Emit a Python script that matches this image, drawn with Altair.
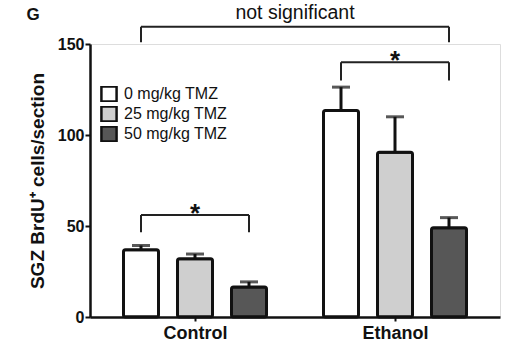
import altair as alt
import pandas as pd

groups = ["Control", "Ethanol"]
doses = ["0 mg/kg TMZ", "25 mg/kg TMZ", "50 mg/kg TMZ"]
means_control = [37.0, 32.0, 16.5]
means_ethanol = [113.5, 90.5, 49.0]
sem_control = [2.3, 2.6, 2.8]
sem_ethanol = [12.8, 19.5, 5.6]
colors = ["#ffffff", "#cfcfcf", "#575757"]

# brackets: (group_from, dose_from, group_to, dose_to, line_y, leg_y, label)
brackets = [
    ("Control", 0, "Ethanol", 2, 159.5, 151.0, "not significant"),
    ("Ethanol", 0, "Ethanol", 2, 140.0, 130.0, "*"),
    ("Control", 0, "Control", 2, 56.0, 46.5, "*"),
]

OFF = 0.27
FONT = "Liberation Sans, Arial, Helvetica, sans-serif"

rows = []
for gi, g in enumerate(groups):
    ms = means_control if g == "Control" else means_ethanol
    ss = sem_control if g == "Control" else sem_ethanol
    for di, d in enumerate(doses):
        rows.append({"group": g, "dose": d, "pos": gi + (di - 1) * OFF,
                     "mean": ms[di], "upper": ms[di] + ss[di]})
df = pd.DataFrame(rows)

def bpos(g, di):
    return groups.index(g) + (di - 1) * OFF

br = pd.DataFrame([
    {"x1": bpos(a, b), "x2": bpos(c, d), "xm": (bpos(a, b) + bpos(c, d)) / 2,
     "y": ly, "yl": lg, "label": lab, "star": lab == "*"}
    for a, b, c, d, ly, lg, lab in brackets
])

xscale = alt.Scale(domain=[-0.5, 1.5], nice=False, zero=False)
yscale = alt.Scale(domain=[0, 150], nice=False)

label_expr = " : ".join(
    [f"datum.value == {i} ? '{g}'" for i, g in enumerate(groups[:-1])] + [f"'{groups[-1]}'"]
)

xenc = alt.X("pos:Q", scale=xscale, title=None,
             axis=alt.Axis(values=list(range(len(groups))), labelExpr=label_expr,
                           labelFontSize=18, labelFontWeight="bold", labelFont=FONT,
                           labelColor="#111", tickSize=4, tickWidth=2, tickColor="#111",
                           domainWidth=2.5, domainColor="#111", grid=False, labelPadding=3))
yenc = alt.Y("mean:Q", scale=yscale, title="SGZ BrdU⁺ cells/section",
             axis=alt.Axis(values=[0, 50, 100, 150], labelFontSize=16, labelFontWeight="bold",
                           labelFont=FONT, labelColor="#111", tickSize=5, tickWidth=2,
                           tickColor="#111", domainWidth=2.5, domainColor="#111", grid=False,
                           labelPadding=1, titleFont=FONT, titleFontSize=19,
                           titleFontWeight="bold", titleColor="#111", titleX=-43))

bars = alt.Chart(df).mark_bar(size=35, stroke="#111", strokeWidth=3, cornerRadius=2).encode(
    x=xenc, y=yenc,
    fill=alt.Fill("dose:N", scale=alt.Scale(domain=doses, range=colors),
                  legend=alt.Legend(title=None, orient="none", legendX=10, legendY=42,
                                    symbolType="square", symbolSize=230,
                                    symbolStrokeColor="#111", symbolStrokeWidth=2.5,
                                    labelFont=FONT, labelFontSize=16, labelColor="#111",
                                    labelOffset=6, rowPadding=4, clipHeight=16, padding=0)),
)

stems = alt.Chart(df).mark_rule(strokeWidth=3, color="#111").encode(
    x=alt.X("pos:Q", scale=xscale), y=alt.Y("mean:Q", scale=yscale), y2="upper:Q")
caps = alt.Chart(df).mark_tick(orient="horizontal", size=18, thickness=3, color="#111").encode(
    x=alt.X("pos:Q", scale=xscale), y=alt.Y("upper:Q", scale=yscale))

hline = alt.Chart(br).mark_rule(strokeWidth=2, color="#222").encode(
    x=alt.X("x1:Q", scale=xscale), x2="x2:Q", y=alt.Y("y:Q", scale=yscale))
leg1 = alt.Chart(br).mark_rule(strokeWidth=2, color="#222").encode(
    x=alt.X("x1:Q", scale=xscale), y=alt.Y("y:Q", scale=yscale), y2="yl:Q")
leg2 = alt.Chart(br).mark_rule(strokeWidth=2, color="#222").encode(
    x=alt.X("x2:Q", scale=xscale), y=alt.Y("y:Q", scale=yscale), y2="yl:Q")

stars = alt.Chart(br).transform_filter("datum.star").mark_text(
    font=FONT, fontSize=26, fontWeight="bold", color="#111", baseline="alphabetic", dy=7
).encode(x=alt.X("xm:Q", scale=xscale), y=alt.Y("y:Q", scale=yscale), text="label:N")
words = alt.Chart(br).transform_filter("!datum.star").mark_text(
    font=FONT, fontSize=19.5, color="#111", baseline="alphabetic", dy=-8
).encode(x=alt.X("xm:Q", scale=xscale), y=alt.Y("y:Q", scale=yscale), text="label:N")

panel = alt.Chart(pd.DataFrame({"t": ["G"]})).mark_text(
    font=FONT, fontSize=17, fontWeight="bold", color="#111", align="center", baseline="middle"
).encode(x=alt.value(-57), y=alt.value(-29), text="t:N")

chart = alt.layer(bars, stems, caps, hline, leg1, leg2, stars, words, panel).properties(
    width=410, height=273,
    autosize=alt.AutoSizeParams(type="none"),
    padding={"left": 90, "top": 44, "right": 10, "bottom": 29},
).configure_view(stroke=None).configure(background="white")

chart.save("out.html", embed_options={"renderer": "svg", "actions": False})
